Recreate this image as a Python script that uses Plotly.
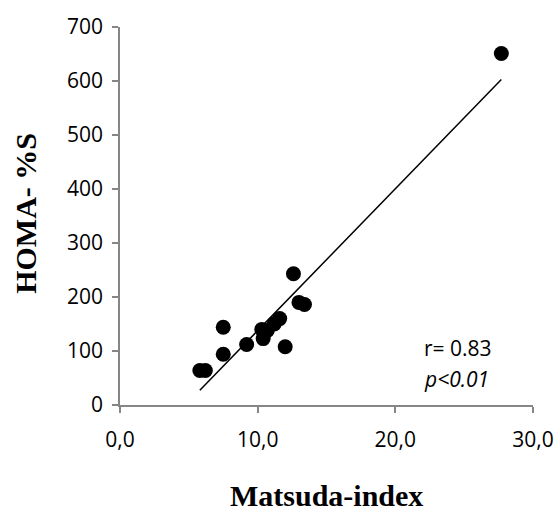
import numpy as np
import plotly.graph_objects as go

matsuda = [5.8, 6.2, 7.5, 7.5, 9.2, 10.3, 10.4, 10.7, 11.2, 11.6, 12.0, 12.6, 13.0, 13.4, 27.7]
homa = [64, 64, 144, 94, 112, 140, 123, 138, 150, 160, 108, 243, 190, 186, 651]

x_ticks = [0, 10, 20, 30]
x_tick_labels = ["0,0", "10,0", "20,0", "30,0"]
y_ticks = [0, 100, 200, 300, 400, 500, 600, 700]

slope, intercept = np.polyfit(matsuda, homa, 1)
tx = np.array([min(matsuda), max(matsuda)])
ty = slope * tx + intercept

fig = go.Figure()
fig.add_trace(go.Scatter(x=tx, y=ty, mode="lines",
                         line=dict(color="black", width=1.5), showlegend=False))
fig.add_trace(go.Scatter(x=matsuda, y=homa, mode="markers",
                         marker=dict(color="black", size=15), showlegend=False))

axis_font = dict(family="Open Sans, Liberation Sans, sans-serif", size=21, color="black")
fig.update_xaxes(range=[0, 30], tickvals=x_ticks, ticktext=x_tick_labels,
                 showgrid=False, zeroline=False, showline=True, linecolor="#868686",
                 linewidth=1.5, ticks="outside", ticklen=6, tickcolor="#868686",
                 tickwidth=1.5, tickfont=axis_font, ticklabelstandoff=9,
                 automargin=False)
fig.update_yaxes(range=[0, 700], tickvals=y_ticks,
                 showgrid=False, zeroline=False, showline=True, linecolor="#868686",
                 linewidth=1.5, ticks="outside", ticklen=6, tickcolor="#868686",
                 tickwidth=1.5, tickfont=axis_font, ticklabelstandoff=5,
                 automargin=False)

title_font = dict(family="Liberation Serif, serif", size=30, color="black")
fig.add_annotation(text="<b>Matsuda-index</b>", xref="paper", yref="paper",
                   x=0.499, y=-0.24, showarrow=False, xanchor="center", yanchor="middle",
                   font=title_font)
fig.add_annotation(text="<b>HOMA- %S</b>", xref="paper", yref="paper",
                   x=-0.228, y=0.508, showarrow=False, textangle=-90,
                   xanchor="center", yanchor="middle",
                   font=title_font)
fig.add_annotation(text="r= 0.83", xref="paper", yref="paper",
                   x=0.732, y=0.151, showarrow=False, xanchor="left", yanchor="middle",
                   font=axis_font)
fig.add_annotation(text="<i>p<0.01</i>", xref="paper", yref="paper",
                   x=0.732, y=0.069, showarrow=False, xanchor="left", yanchor="middle",
                   font=axis_font)

fig.update_layout(width=560, height=516, margin=dict(l=120, r=27, t=27, b=111),
                  plot_bgcolor="white", paper_bgcolor="white")
fig.write_html("out.html")
